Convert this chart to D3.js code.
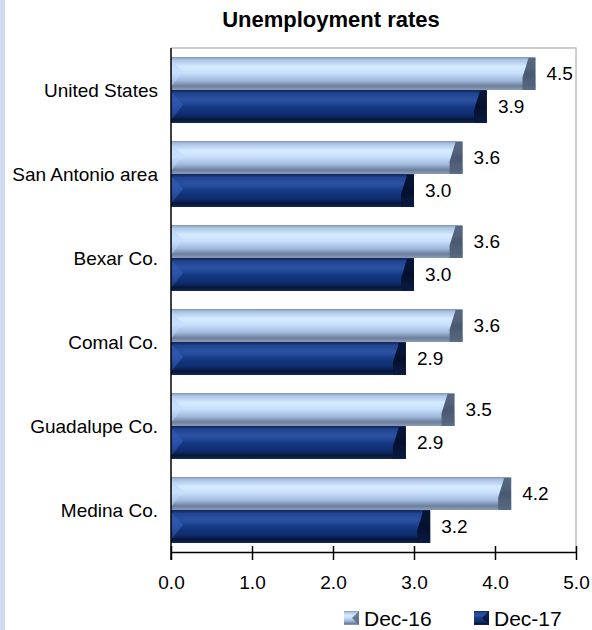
<!DOCTYPE html>
<html>
<head>
<meta charset="utf-8">
<script src="https://cdn.jsdelivr.net/npm/d3@7"></script>
<style>
  body { margin: 0; background: #fff; }
  text { font-family: "Liberation Sans", Arial, sans-serif; fill: #000; }
</style>
</head>
<body>
<div id="chart"></div>
<script>
// chart data
var categories = ["United States", "San Antonio area", "Bexar Co.", "Comal Co.", "Guadalupe Co.", "Medina Co."];
var seriesNames = ["Dec-16", "Dec-17"];
var dec16 = [4.5, 3.6, 3.6, 3.6, 3.5, 4.2];
var dec17 = [3.9, 3.0, 3.0, 2.9, 2.9, 3.2];
var xTicks = [0, 1, 2, 3, 4, 5];

var W = 592, H = 630;
// plot box (note: "top" is taken by window.top, so use other names)
var plotLeft = 171, plotRight = 576, plotTop = 48, plotBottom = 552;

var svg = d3.select("#chart").append("svg")
  .attr("width", W)
  .attr("height", H);

// light blue strip on the left edge
svg.append("rect")
  .attr("x", 0).attr("y", 0)
  .attr("width", 5).attr("height", H)
  .attr("fill", "#cfdcf4");

var defs = svg.append("defs");

// vertical shading for the bars
function vGrad(id, stops) {
  var g = defs.append("linearGradient")
    .attr("id", id)
    .attr("x1", 0).attr("y1", 0).attr("x2", 0).attr("y2", 1);
  stops.forEach(function(s) {
    g.append("stop").attr("offset", s[0]).attr("stop-color", s[1]);
  });
}
vGrad("light", [[0, "#8193ad"], [0.08, "#aac2e6"], [0.3, "#d6ecff"], [0.5, "#c5ddfa"], [0.72, "#9fb7da"], [0.88, "#6c7f9c"], [1, "#8e9db4"]]);
vGrad("dark", [[0, "#0d2356"], [0.1, "#21448f"], [0.3, "#2b52a3"], [0.5, "#163a85"], [0.75, "#0f2d6e"], [0.9, "#061639"], [1, "#132a58"]]);
vGrad("lightEnd", [[0, "#4f5f78"], [0.5, "#3b4a63"], [1, "#58687f"]]);
vGrad("darkEnd", [[0, "#03102e"], [0.5, "#020b22"], [1, "#0a1c44"]]);
vGrad("lightStart", [[0, "#b8d4f6"], [0.5, "#c8e0ff"], [1, "#9cb6dc"]]);
vGrad("darkStart", [[0, "#2f58ad"], [0.5, "#2e58b0"], [1, "#1d3d85"]]);

var fills = { "Dec-16": "url(#light)", "Dec-17": "url(#dark)" };
var endFills = { "Dec-16": "url(#lightEnd)", "Dec-17": "url(#darkEnd)" };
var startFills = { "Dec-16": "url(#lightStart)", "Dec-17": "url(#darkStart)" };

// scales
var x = d3.scaleLinear().domain([0, 5]).range([plotLeft, plotRight]);
var y = d3.scaleBand().domain(categories).range([plotTop, plotBottom])
  .paddingInner(0.214).paddingOuter(0.107);
var ySub = d3.scaleBand().domain(seriesNames).range([0, y.bandwidth()]);

// plot area border (top and right, gray)
svg.append("path")
  .attr("d", "M" + plotLeft + "," + plotTop + "H" + plotRight + "V" + plotBottom)
  .attr("fill", "none")
  .attr("stroke", "#bfbfbf")
  .attr("stroke-width", 1.5);

// title
svg.append("text")
  .attr("x", 331)
  .attr("y", 27)
  .attr("text-anchor", "middle")
  .style("font-size", "22px")
  .style("font-weight", "bold")
  .text("Unemployment rates");

var rows = [];
categories.forEach(function(c, i) {
  rows.push({ cat: c, series: "Dec-16", value: dec16[i] });
  rows.push({ cat: c, series: "Dec-17", value: dec17[i] });
});

var bars = svg.selectAll(".bar")
  .data(rows)
  .enter().append("g")
  .attr("class", "bar")
  .attr("transform", function(d) { return "translate(0," + (y(d.cat) + ySub(d.series)) + ")"; });

var bh = ySub.bandwidth();

bars.append("rect")
  .attr("x", x(0))
  .attr("y", 0)
  .attr("width", function(d) { return x(d.value) - x(0); })
  .attr("height", bh)
  .attr("fill", function(d) { return fills[d.series]; });

// bevel at the left end
bars.append("path")
  .attr("d", function(d) {
    var x0 = x(0);
    return "M" + x0 + ",2L" + (x0 + 12) + "," + (bh * 0.45) + "L" + x0 + "," + (bh - 3) + "Z";
  })
  .attr("fill", function(d) { return startFills[d.series]; })
  .attr("opacity", 0.85);

// dark bevel at the right end
bars.append("path")
  .attr("d", function(d) {
    var e = x(d.value);
    return "M" + (e - 7) + ",1L" + e + ",1L" + e + "," + bh + "L" + (e - 13) + "," + bh +
      "L" + (e - 13) + "," + (bh * 0.62) + "Z";
  })
  .attr("fill", function(d) { return endFills[d.series]; })
  .attr("opacity", 0.9);

// value labels
bars.append("text")
  .attr("x", function(d) { return x(d.value) + 11; })
  .attr("y", bh / 2)
  .attr("dy", "0.36em")
  .style("font-size", "19px")
  .text(function(d) { return d.value.toFixed(1); });

// category labels
svg.selectAll(".cat")
  .data(categories)
  .enter().append("text")
  .attr("class", "cat")
  .attr("x", 158)
  .attr("y", function(d) { return y(d) + y.bandwidth() / 2; })
  .attr("dy", "0.36em")
  .attr("text-anchor", "end")
  .style("font-size", "19px")
  .text(function(d) { return d; });

// left axis line
svg.append("line")
  .attr("x1", plotLeft).attr("x2", plotLeft)
  .attr("y1", plotTop).attr("y2", plotBottom + 8)
  .attr("stroke", "#000")
  .attr("stroke-width", 1.5);

// bottom axis
var xAxis = d3.axisBottom(x)
  .tickValues(xTicks)
  .tickSizeInner(8)
  .tickSizeOuter(0)
  .tickPadding(16)
  .tickFormat(d3.format(".1f"));

var gx = svg.append("g")
  .attr("transform", "translate(0," + plotBottom + ")")
  .call(xAxis);
gx.select(".domain").attr("stroke", "#000").attr("stroke-width", 1.5);
gx.selectAll(".tick line").attr("stroke", "#000").attr("stroke-width", 1.5)
  .attr("y1", -6);
gx.selectAll(".tick text")
  .style("font-family", "'Liberation Sans', Arial, sans-serif")
  .style("font-size", "19px")
  .attr("fill", "#000");

// legend
var legendX = [344, 474];
var legend = svg.selectAll(".legend")
  .data(seriesNames)
  .enter().append("g")
  .attr("class", "legend")
  .attr("transform", function(d, i) { return "translate(" + legendX[i] + ",611)"; });

legend.append("rect")
  .attr("width", 15)
  .attr("height", 14)
  .attr("fill", function(d) { return fills[d]; });

legend.append("path")
  .attr("d", "M15,0L8,7L15,14Z")
  .attr("fill", function(d) { return endFills[d]; })
  .attr("opacity", 0.7);

legend.append("text")
  .attr("x", 20)
  .attr("y", 7)
  .attr("dy", "0.36em")
  .style("font-size", "21px")
  .text(function(d) { return d; });
</script>
</body>
</html>
